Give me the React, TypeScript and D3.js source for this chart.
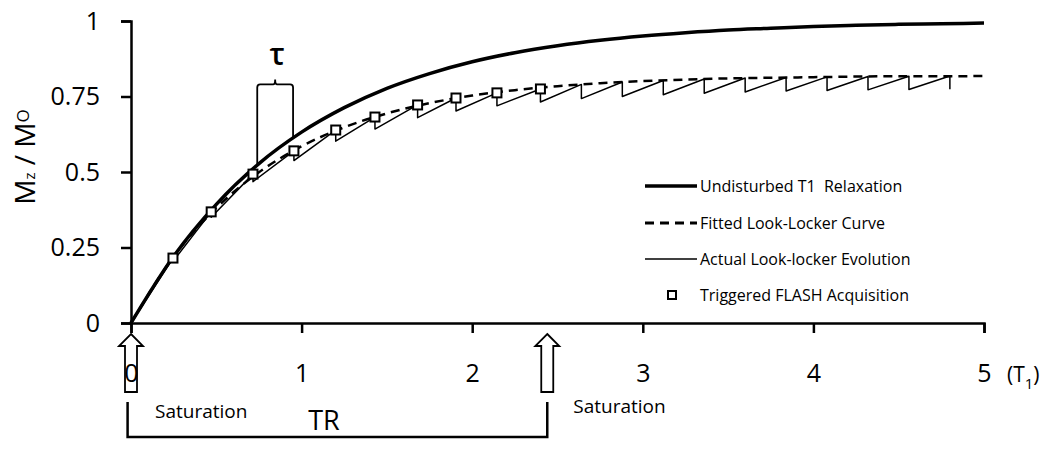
import React, { useRef, useEffect } from 'react'
import * as d3 from 'd3'

// values (time in units of T1, Mz/M0)
const gridT = [0, 0.25, 0.5, 0.75, 1, 1.25, 1.5, 1.75, 2, 2.25, 2.5, 2.75, 3, 3.25, 3.5, 3.75, 4, 4.25, 4.5, 4.75, 5]
const undisturbed = [0, 0.221, 0.393, 0.528, 0.632, 0.713, 0.777, 0.826, 0.865, 0.895, 0.918, 0.936, 0.95, 0.961, 0.97, 0.976, 0.982, 0.986, 0.989, 0.991, 0.993]
const fitted = [0, 0.22, 0.381, 0.499, 0.585, 0.648, 0.694, 0.728, 0.753, 0.771, 0.784, 0.794, 0.801, 0.806, 0.81, 0.812, 0.814, 0.816, 0.817, 0.817, 0.818]

// Look-Locker pulses: magnetization just before and just after each pulse
const pulseT = [0.246, 0.47, 0.715, 0.955, 1.2, 1.43, 1.68, 1.905, 2.145, 2.4, 2.64, 2.88, 3.12, 3.36, 3.6, 3.84, 4.08, 4.32, 4.56, 4.8]
const pulseTop = [0.215, 0.368, 0.493, 0.57, 0.639, 0.682, 0.722, 0.745, 0.762, 0.775, 0.79, 0.798, 0.803, 0.808, 0.811, 0.813, 0.815, 0.816, 0.817, 0.818]
const pulseBottom = [0.204, 0.35, 0.468, 0.538, 0.602, 0.642, 0.68, 0.702, 0.719, 0.732, 0.743, 0.75, 0.756, 0.761, 0.765, 0.768, 0.77, 0.772, 0.773, 0.774]
const flashCount = 10 // FLASH squares only during the first TR

const xTicks = [0, 1, 2, 3, 4, 5]
const yTicks = [0, 0.25, 0.5, 0.75, 1]
const legendLabels = ['Undisturbed T1  Relaxation', 'Fitted Look-Locker Curve', 'Actual Look-locker Evolution', 'Triggered FLASH Acquisition']

const saturationT = [0, 2.44]
const trSpan = [-0.02, 2.44]
const tauSpan = [0.74, 0.95]
const tauEnds = [0.523, 0.613] // where the brace legs meet the undisturbed curve
const tauTop = 0.79

const FONT = "'Open Sans', sans-serif"

function App() {
  const svgRef = useRef<SVGSVGElement>(null)

  useEffect(() => {
    const svg = d3.select(svgRef.current)
    svg.selectAll('*').remove()

    const x = d3.scaleLinear().domain([0, 5]).range([131, 984])
    const y = d3.scaleLinear().domain([0, 1]).range([323, 21])

    // axes
    const yAxis = d3.axisLeft(y).tickValues(yTicks).tickSize(10).tickPadding(21)
      .tickFormat(d => String(d))
    const gy = svg.append('g').attr('transform', `translate(${x(0)},0)`).call(yAxis)
    const xAxis = d3.axisBottom(x).tickValues(xTicks).tickSize(10).tickFormat(d => String(d))
    const gx = svg.append('g').attr('transform', `translate(0,${y(0)})`).call(xAxis)
    ;[gx, gy].forEach(g => {
      g.selectAll('path, line').attr('stroke', '#000').attr('stroke-width', 2.5)
      g.selectAll('text').attr('font-family', FONT).attr('font-size', 25).attr('fill', '#000')
    })
    gx.selectAll('text').attr('y', 59).attr('dy', 0)

    // curves
    const curve = d3.line<number>()
      .x((d, i) => x(gridT[i]))
      .y(d => y(d))
      .curve(d3.curveMonotoneX)

    svg.append('path').attr('d', curve(undisturbed)).attr('fill', 'none')
      .attr('stroke', '#000').attr('stroke-width', 3.5)

    svg.append('path').attr('d', curve(fitted)).attr('fill', 'none')
      .attr('stroke', '#000').attr('stroke-width', 2.5).attr('stroke-dasharray', '9,6')

    const sawPts: [number, number][] = [[0, 0]]
    pulseT.forEach((t, i) => {
      sawPts.push([t, pulseTop[i]])
      sawPts.push([t, pulseBottom[i]])
    })
    const saw = d3.line<[number, number]>().x(d => x(d[0])).y(d => y(d[1]))
    svg.append('path').attr('d', saw(sawPts)).attr('fill', 'none')
      .attr('stroke', '#000').attr('stroke-width', 1.5).attr('stroke-linejoin', 'round')

    svg.selectAll('.flash')
      .data(pulseT.slice(0, flashCount))
      .join('rect')
      .attr('class', 'flash')
      .attr('x', d => x(d) - 4.5)
      .attr('y', (d, i) => y(pulseTop[i]) - 4.5)
      .attr('width', 9).attr('height', 9)
      .attr('fill', '#fff').attr('stroke', '#000').attr('stroke-width', 2)

    // tau brace
    const bx0 = x(tauSpan[0]), bx1 = x(tauSpan[1]), by = y(tauTop)
    const bm = (bx0 + bx1) / 2
    svg.append('path')
      .attr('d', `M${bx0},${y(tauEnds[0])}V${by + 3}Q${bx0},${by} ${bx0 + 3},${by}H${bm - 2}Q${bm},${by} ${bm},${by - 5}Q${bm},${by} ${bm + 2},${by}H${bx1 - 3}Q${bx1},${by} ${bx1},${by + 3}V${y(tauEnds[1])}`)
      .attr('fill', 'none').attr('stroke', '#000').attr('stroke-width', 1.8)
    svg.append('text').attr('x', bm + 2).attr('y', by - 19).attr('text-anchor', 'middle')
      .attr('font-family', FONT).attr('font-size', 30).attr('font-weight', 600).text('τ')

    // saturation arrows
    saturationT.forEach(t => {
      const cx = x(t)
      const tip = 334, base = 346, bottom = 392
      svg.append('path')
        .attr('d', `M${cx},${tip}L${cx + 12},${base}H${cx + 6}V${bottom}H${cx - 6}V${base}H${cx - 12}Z`)
        .attr('fill', '#fff').attr('stroke', '#000').attr('stroke-width', 1.8)
    })
    // the "0" label sits on top of the first arrow
    gx.raise()

    // TR bracket
    svg.append('path')
      .attr('d', `M${x(trSpan[0])},402V437H${x(trSpan[1])}V402`)
      .attr('fill', 'none').attr('stroke', '#000').attr('stroke-width', 2.5)
    svg.append('text').attr('x', 324).attr('y', 430).attr('text-anchor', 'middle')
      .attr('font-family', FONT).attr('font-size', 27).text('TR')
    svg.append('text').attr('x', x(saturationT[0]) + 24).attr('y', 418)
      .attr('font-family', FONT).attr('font-size', 19).text('Saturation')
    svg.append('text').attr('x', x(saturationT[1]) + 26).attr('y', 413)
      .attr('font-family', FONT).attr('font-size', 19).text('Saturation')

    // axis titles
    const yl = svg.append('text').attr('transform', 'translate(35,157) rotate(-90)')
      .attr('text-anchor', 'middle').attr('font-family', FONT).attr('font-size', 28)
    yl.append('tspan').text('M')
    yl.append('tspan').attr('font-size', 15).text('z')
    yl.append('tspan').text(' / M')
    yl.append('tspan').attr('font-size', 17).attr('dy', -6).text('O')

    const xl = svg.append('text').attr('x', 1007).attr('y', 382)
      .attr('font-family', FONT).attr('font-size', 21)
    xl.append('tspan').text('(T')
    xl.append('tspan').attr('font-size', 15).attr('dy', 7).text('1')
    xl.append('tspan').attr('dy', -7).text(')')

    // legend
    const rowY = [186, 223, 259, 295]
    const lg = svg.append('g')
    legendLabels.forEach((label, i) => {
      const ry = rowY[i]
      if (i === 3) {
        lg.append('rect').attr('x', 668).attr('y', ry - 4).attr('width', 8).attr('height', 8)
          .attr('fill', '#fff').attr('stroke', '#000').attr('stroke-width', 2)
      } else {
        lg.append('line').attr('x1', 645).attr('x2', 697).attr('y1', ry).attr('y2', ry)
          .attr('stroke', '#000')
          .attr('stroke-width', i === 0 ? 3.5 : i === 1 ? 3 : 1.5)
          .attr('stroke-dasharray', i === 1 ? '9,6' : null)
      }
      lg.append('text').attr('x', 700).attr('y', ry + 5.5)
        .attr('font-family', FONT).attr('font-size', 16)
        .style('white-space', 'pre').attr('fill', '#000').text(label)
    })
  }, [])

  return (
    <svg ref={svgRef} width={1050} height={450}
      style={{ position: 'absolute', left: 0, top: 0, background: '#fff' }} />
  )
}

export default App
